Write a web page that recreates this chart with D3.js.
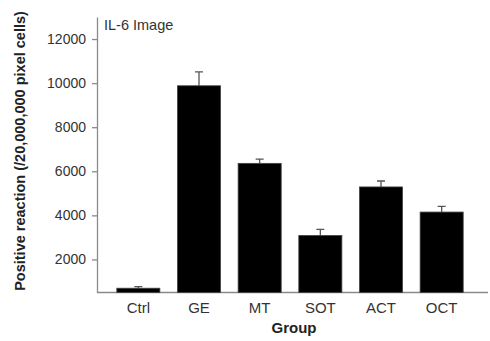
<!DOCTYPE html>
<html>
<head>
<meta charset="utf-8">
<script src="https://cdn.jsdelivr.net/npm/d3@7"></script>
<style>
  body { margin: 0; background: #fff; }
  text { font-family: "Liberation Sans", Arial, sans-serif; }
</style>
</head>
<body>
<svg id="chart"></svg>
<script>
var width = 490, height = 341;

// data
var groups = ["Ctrl", "GE", "MT", "SOT", "ACT", "OCT"];
var means = [695, 9880, 6360, 3090, 5290, 4150];
var errors = [75, 630, 190, 270, 270, 260];
var yTicks = [2000, 4000, 6000, 8000, 10000, 12000];

var svg = d3.select("#chart")
  .attr("width", width)
  .attr("height", height);

// scales
var x = d3.scaleBand()
  .domain(groups)
  .range([108, 472])
  .paddingInner(0.29)
  .paddingOuter(0.145);

var y = d3.scaleLinear()
  .domain([500, 13000])
  .range([292.5, 17]);

// y axis
var yAxis = svg.append("g")
  .attr("transform", "translate(97,0)")
  .call(d3.axisLeft(y).tickValues(yTicks).tickSize(5).tickSizeOuter(0).tickPadding(6).tickFormat(d3.format("d")));
yAxis.select(".domain").attr("stroke", "#8a8a8a").attr("stroke-width", 1.3);
yAxis.selectAll(".tick line").attr("stroke", "#8a8a8a").attr("stroke-width", 1.3);
yAxis.selectAll(".tick text")
  .attr("fill", "#333")
  .style("font-size", "14px");

// x axis line
svg.append("line")
  .attr("x1", 97).attr("x2", 488)
  .attr("y1", y(500)).attr("y2", y(500))
  .attr("stroke", "#8a8a8a")
  .attr("stroke-width", 1.3);

svg.selectAll(".xlab")
  .data(groups)
  .enter()
  .append("text")
  .attr("class", "xlab")
  .attr("x", function(d) { return x(d) + x.bandwidth() / 2; })
  .attr("y", 313)
  .attr("text-anchor", "middle")
  .attr("fill", "#333")
  .style("font-size", "15px")
  .text(function(d) { return d; });

// error bars (upper only)
var data = groups.map(function(g, i) { return { g: g, m: means[i], e: errors[i] }; });

svg.selectAll(".err")
  .data(data)
  .enter()
  .append("path")
  .attr("class", "err")
  .attr("d", function(d) {
    var cx = x(d.g) + x.bandwidth() / 2;
    return "M" + cx + "," + y(d.m) + "V" + y(d.m + d.e) + "M" + (cx - 4) + "," + y(d.m + d.e) + "H" + (cx + 4);
  })
  .attr("stroke", "#555")
  .attr("stroke-width", 1.3)
  .attr("fill", "none");

// bars
svg.selectAll(".bar")
  .data(data)
  .enter()
  .append("rect")
  .attr("class", "bar")
  .attr("x", function(d) { return x(d.g); })
  .attr("width", x.bandwidth())
  .attr("y", function(d) { return y(d.m); })
  .attr("height", function(d) { return y(500) - y(d.m); })
  .attr("fill", "#000")
  .attr("stroke", "#444")
  .attr("stroke-width", 0.8);

// title inside plot
svg.append("text")
  .attr("x", 104)
  .attr("y", 30)
  .attr("fill", "#333")
  .style("font-size", "14.5px")
  .text("IL-6 Image");

// axis titles
svg.append("text")
  .attr("x", 294)
  .attr("y", 333)
  .attr("text-anchor", "middle")
  .attr("fill", "#222")
  .style("font-size", "15px")
  .style("font-weight", "bold")
  .text("Group");

svg.append("text")
  .attr("transform", "translate(25,151) rotate(-90)")
  .attr("text-anchor", "middle")
  .attr("fill", "#222")
  .style("font-size", "14.5px")
  .style("font-weight", "bold")
  .text("Positive reaction (/20,000,000 pixel cells)");
</script>
</body>
</html>
